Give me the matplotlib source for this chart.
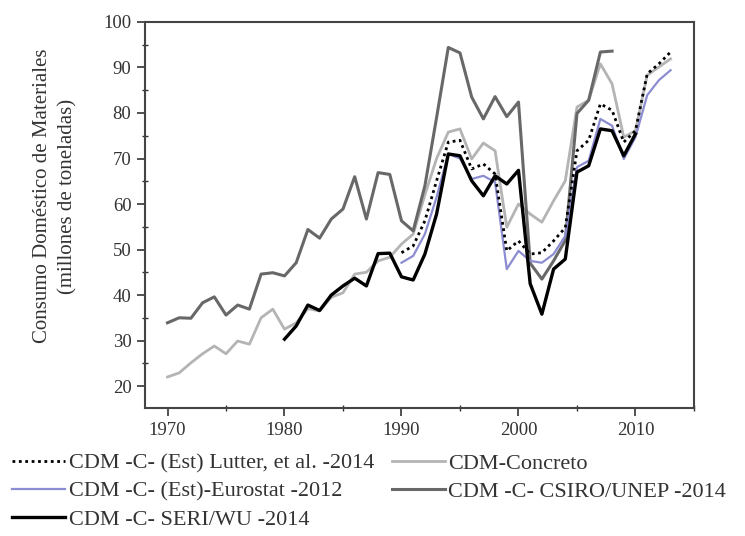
import numpy as np
import matplotlib
matplotlib.use("Agg")
import matplotlib.pyplot as plt
from matplotlib.ticker import MultipleLocator

plt.rcParams['font.family'] = ['Liberation Serif', 'DejaVu Serif']

# CDM -C- CSIRO/UNEP -2014, 1970-2008
years_csiro = np.arange(1970, 2009)
csiro = [33.9, 35.0, 34.9, 38.3, 39.6, 35.6, 37.8, 36.9, 44.6, 44.9,
         44.2, 47.1, 54.4, 52.5, 56.7, 58.9, 66.0, 56.7, 66.9, 66.5,
         56.3, 54.1, 64.0, 79.0, 94.4, 93.2, 83.5, 78.7, 83.6, 79.2,
         82.4, 47.0, 43.5, 47.5, 52.0, 79.9, 82.8, 93.4, 93.6]

# CDM-Concreto, 1970-2013
years_conc = np.arange(1970, 2014)
concreto = [22.0, 22.9, 25.1, 27.1, 28.8, 27.1, 29.9, 29.2, 35.0, 36.9,
            32.5, 33.9, 37.0, 36.5, 39.5, 40.5, 44.6, 45.0, 47.5, 48.3,
            51.2, 53.4, 62.0, 70.0, 75.8, 76.5, 69.9, 73.4, 71.7, 54.9,
            60.0, 57.8, 56.0, 60.7, 65.1, 81.3, 82.8, 90.8, 86.4, 74.7,
            76.1, 88.3, 90.1, 91.9]

# CDM -C- (Est) Lutter, et al. -2014, 1990-2013
years_lut = np.arange(1990, 2014)
lutter = [49.3, 50.8, 56.3, 65.1, 73.6, 74.0, 67.7, 68.8, 66.6, 49.7,
          51.9, 49.0, 49.3, 51.9, 54.8, 71.7, 74.0, 82.0, 80.6, 73.6,
          76.1, 88.6, 90.8, 93.4]

# CDM -C- (Est)-Eurostat -2012, 1990-2013
years_eur = np.arange(1990, 2014)
eurostat = [47.1, 48.6, 53.4, 61.5, 71.0, 70.0, 65.5, 66.2, 64.8, 45.7,
            49.7, 47.5, 47.1, 49.0, 53.0, 68.1, 69.5, 78.7, 77.2, 69.9,
            74.7, 83.9, 87.2, 89.4]

# CDM -C- SERI/WU -2014, 1980-2010
years_seri = np.arange(1980, 2011)
seri = [30.3, 33.2, 37.8, 36.6, 40.0, 42.0, 43.7, 42.0, 49.1, 49.2,
        44.0, 43.3, 49.0, 57.8, 71.0, 70.6, 65.1, 61.8, 66.2, 64.4,
        67.4, 42.5, 35.8, 45.7, 47.9, 67.0, 68.4, 76.5, 76.1, 70.6,
        75.4]

fig = plt.figure(figsize=(7.45, 5.36), dpi=100)
ax = fig.add_axes([0.195, 0.239, 0.7365, 0.72])

ax.plot(years_conc, concreto, color="#b4b4b4", lw=2.0, label="CDM-Concreto", zorder=2)
ax.plot(years_csiro, csiro, color="#686868", lw=2.2, label="CDM -C- CSIRO/UNEP -2014", zorder=2)
ax.plot(years_eur, eurostat, color="#8c8cd2", lw=1.6, label="CDM -C- (Est)-Eurostat -2012", zorder=3)
ax.plot(years_seri, seri, color="black", lw=2.4, label="CDM -C- SERI/WU -2014", zorder=4)
ax.plot(years_lut, lutter, color="black", lw=2.0, ls=(0, (1, 1.3)),
        label="CDM -C- (Est) Lutter, et al. -2014", zorder=5)

ax.set_xlim(1968.1, 2015)
ax.set_ylim(15.2, 100)
ax.xaxis.set_major_locator(MultipleLocator(10))
ax.xaxis.set_minor_locator(MultipleLocator(5))
ax.yaxis.set_major_locator(MultipleLocator(10))
ax.yaxis.set_minor_locator(MultipleLocator(5))
ax.tick_params(which="major", direction="out", length=6, width=1.2, labelsize=13.5,
               colors="#333333", pad=4)
ax.tick_params(which="minor", direction="inout", length=5, width=1.0, colors="#333333")
for sp in ax.spines.values():
    sp.set_color("#444444")
    sp.set_linewidth(1.5)

fig.text(55.5 / 745, 1 - 196 / 536,
         "Consumo Doméstico de Materiales\n(millones de toneladas)",
         rotation=90, ha="center", va="center", fontsize=15, linespacing=1.45,
         color="#333333")

handles, labels = ax.get_legend_handles_labels()
order = [4, 2, 3, 0, 1]
fig.legend([handles[i] for i in order], [labels[i] for i in order],
           loc="upper left", bbox_to_anchor=(12 / 745, 1 - 453 / 536), ncol=2, frameon=False,
           fontsize=16, handlelength=2.4, handletextpad=0.15, labelspacing=0.34,
           columnspacing=0.8, borderaxespad=0, borderpad=0, labelcolor="#333333")

fig.savefig("out.png", dpi=100)
